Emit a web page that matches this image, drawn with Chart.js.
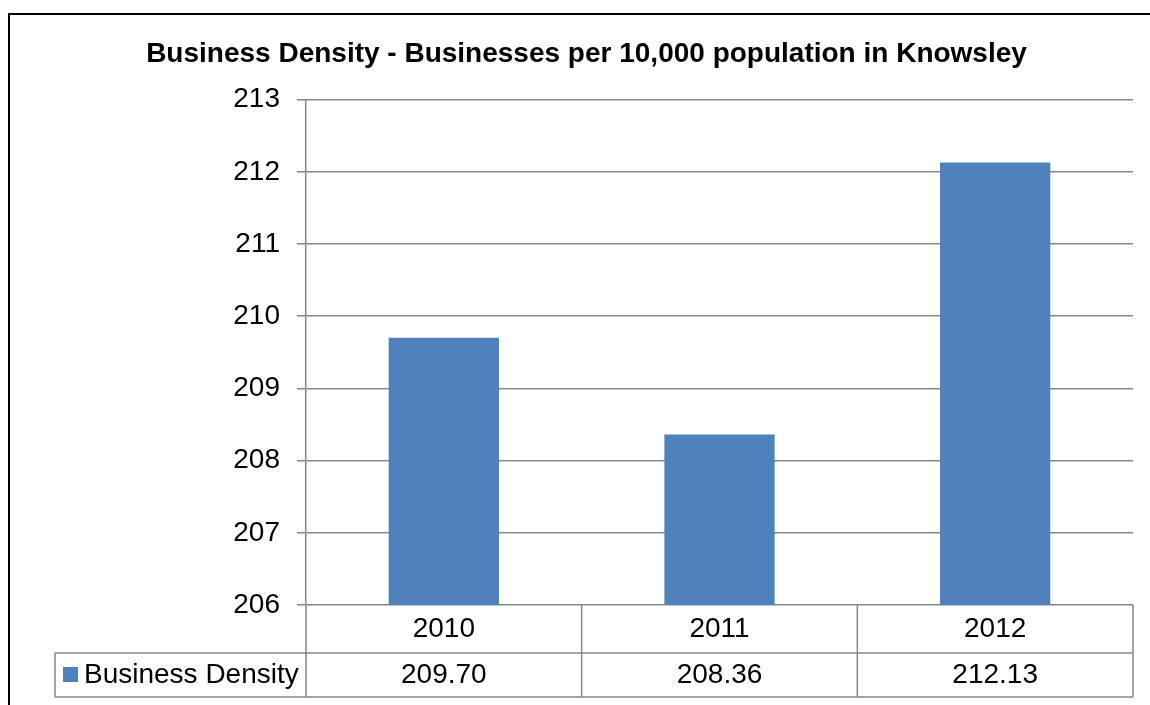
<!DOCTYPE html>
<html>
<head>
<meta charset="utf-8">
<script src="https://cdn.jsdelivr.net/npm/chart.js@4/dist/chart.umd.min.js"></script>
<style>
  html, body { margin: 0; padding: 0; background: #fff; }
  canvas { display: block; }
</style>
</head>
<body>
<canvas id="myChart" width="1150" height="705"></canvas>
<script>
// business density figures
const years = ['2010', '2011', '2012'];
const density = [209.70, 208.36, 212.13];
const seriesName = 'Business Density';
const yMin = 206;
const yMax = 213;
const yStep = 1;

const barColor = '#4F81BD';
const lineColor = '#878787';
const fontFamily = '"Liberation Sans", Arial, sans-serif';
const labelSize = 28;

/* frame + data table under the plot */
const dataTable = {
  id: 'dataTable',
  beforeDraw(chart) {
    const ctx = chart.ctx;
    ctx.save();
    ctx.fillStyle = '#fff';
    ctx.fillRect(0, 0, chart.width, chart.height);
    ctx.strokeStyle = '#000';
    ctx.lineWidth = 2;
    ctx.beginPath();
    ctx.moveTo(9, chart.height);
    ctx.lineTo(9, 14);
    ctx.lineTo(chart.width, 14);
    ctx.stroke();
    ctx.restore();
  },
  afterDraw(chart) {
    const ctx = chart.ctx;
    const x = chart.scales.x;
    const area = chart.chartArea;
    const colW = (x.right - x.left) / years.length;
    const rowH = 48;
    const row2Top = area.bottom + rowH;
    const bottom = row2Top + 44;
    const legendLeft = 55;

    ctx.save();
    ctx.strokeStyle = lineColor;
    ctx.lineWidth = 1.5;
    ctx.beginPath();
    // column dividers
    for (let i = 0; i <= years.length; i++) {
      const cx = x.left + i * colW;
      ctx.moveTo(cx, area.bottom);
      ctx.lineTo(cx, bottom);
    }
    // row lines
    ctx.moveTo(legendLeft, row2Top);
    ctx.lineTo(x.right, row2Top);
    ctx.moveTo(legendLeft, bottom);
    ctx.lineTo(x.right, bottom);
    ctx.moveTo(legendLeft, row2Top);
    ctx.lineTo(legendLeft, bottom);
    ctx.stroke();

    const midY = (row2Top + bottom) / 2;
    ctx.font = labelSize + 'px ' + fontFamily;
    ctx.fillStyle = '#000';
    ctx.textBaseline = 'middle';
    ctx.textAlign = 'center';
    density.forEach((v, i) => {
      ctx.fillText(v.toFixed(2), x.getPixelForValue(i), midY);
    });

    // legend key
    ctx.fillStyle = barColor;
    ctx.fillRect(63, midY - 8, 15, 15);
    ctx.fillStyle = '#000';
    ctx.textAlign = 'left';
    ctx.fillText(seriesName, 84, midY);
    ctx.restore();
  }
};

const ctx = document.getElementById('myChart').getContext('2d');
const myChart = new Chart(ctx, {
  type: 'bar',
  data: {
    labels: years,
    datasets: [{
      label: seriesName,
      data: density,
      backgroundColor: barColor,
      barPercentage: 0.4,
      categoryPercentage: 1.0
    }]
  },
  options: {
    responsive: false,
    animation: false,
    devicePixelRatio: 1,
    layout: {
      padding: { left: 40, right: 17, top: 0, bottom: 8 }
    },
    font: { family: fontFamily },
    plugins: {
      legend: { display: false },
      tooltip: { enabled: false },
      title: {
        display: true,
        text: 'Business Density - Businesses per 10,000 population in Knowsley',
        color: '#000',
        font: { family: fontFamily, size: 28, weight: 'bold' },
        padding: { top: 37, bottom: 29 }
      }
    },
    scales: {
      x: {
        grid: { display: false, drawTicks: false },
        border: { display: false },
        ticks: {
          color: '#000',
          font: { family: fontFamily, size: labelSize },
          padding: 7
        },
        afterFit(scale) { scale.height = 92; }
      },
      y: {
        min: yMin,
        max: yMax,
        ticks: {
          stepSize: yStep,
          color: '#000',
          font: { family: fontFamily, size: labelSize },
          padding: 17
        },
        grid: {
          color: lineColor,
          lineWidth: 1.5,
          tickLength: 9,
          tickColor: lineColor
        },
        border: { color: lineColor, width: 1.5 },
        afterFit(scale) { scale.width = 266; }
      }
    }
  },
  plugins: [dataTable]
});
</script>
</body>
</html>
